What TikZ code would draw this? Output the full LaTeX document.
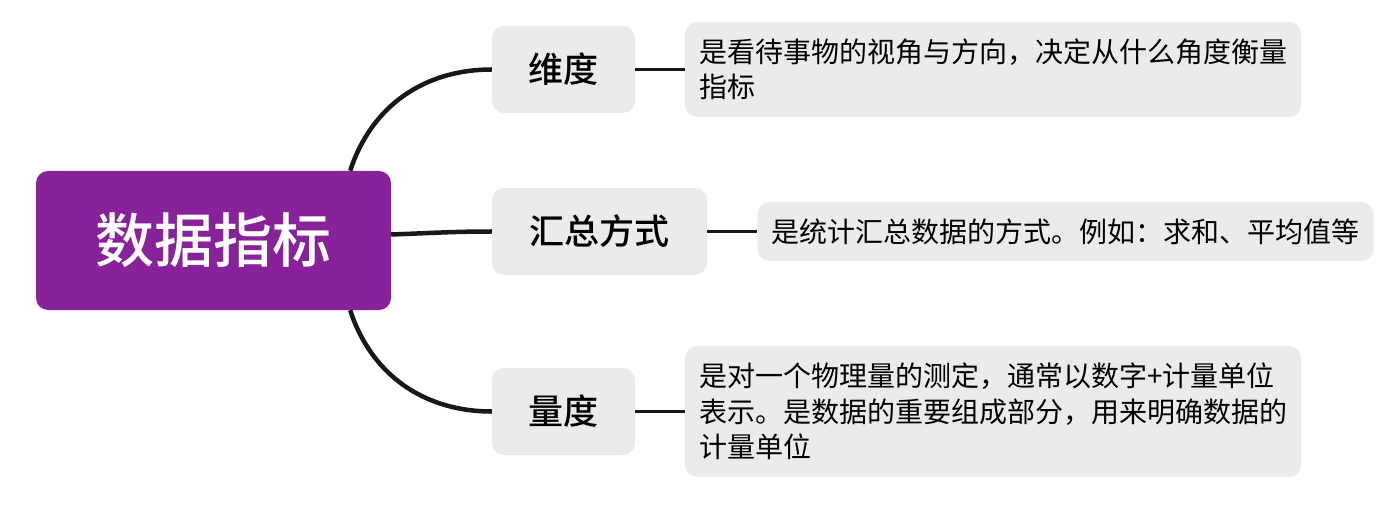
\documentclass[tikz,border=0pt]{standalone}
\usepackage{fontspec}
\newfontfamily\cjk{Noto Sans CJK SC}
\newfontfamily\cjkmed{Noto Sans CJK SC Medium}
\definecolor{rootpurple}{RGB}{136,34,154}
\definecolor{boxgray}{RGB}{235,235,235}
\definecolor{linkblack}{RGB}{24,24,24}

\begin{document}
\begin{tikzpicture}[x=1pt,y=1pt,
    topic/.style={fill=rootpurple,text=white,rounded corners=12pt,minimum width=355pt,minimum height=139pt,
        font=\cjkmed\fontsize{59}{70}\selectfont},
    branch/.style={fill=boxgray,rounded corners=12pt,minimum height=87pt,
        font=\cjkmed\fontsize{35}{42}\selectfont},
    note/.style={fill=boxgray,rounded corners=12pt,align=left,inner xsep=14pt,inner ysep=12pt,
        font=\cjk\fontsize{28}{35.5}\selectfont},
    link/.style={draw=linkblack,line width=4.5pt},
    sublink/.style={draw=linkblack,line width=3pt}]
    \useasboundingbox (0,0) rectangle (1392,512);
    \node[topic] (root) at (213.5,271.5) {数据指标};
    \node[branch,minimum width=143pt] (dim) at (563.5,442.5) {维度};
    \node[branch,minimum width=215pt] (sum) at (599.5,280.5) {汇总方式};
    \node[branch,minimum width=143pt] (meas) at (563.5,100.5) {量度};
    \node[note,minimum width=612pt,minimum height=95pt] (dimtxt) at (993,442.5)
        {是看待事物的视角与方向，决定从什么角度衡量\\指标};
    \node[note,minimum width=613pt,minimum height=59pt] (sumtxt) at (1065.5,280.5)
        {是统计汇总数据的方式。例如：求和、平均值等};
    \node[note,minimum width=612pt,minimum height=131pt] (meastxt) at (993,100.5)
        {是对一个物理量的测定，通常以数字+计量单位\\表示。是数据的重要组成部分，用来明确数据的\\计量单位};
    \draw[link] ([xshift=-41pt]root.north east) to[out=72,in=180] (dim.west);
    \draw[link] ([yshift=6pt]root.east) to[out=2,in=180] (sum.west);
    \draw[link] ([xshift=-41pt]root.south east) to[out=-72,in=180] (meas.west);
    \draw[sublink] (dim.east) -- (dimtxt.west);
    \draw[sublink] (sum.east) -- (sumtxt.west);
    \draw[sublink] (meas.east) -- (meastxt.west);
\end{tikzpicture}
\end{document}
